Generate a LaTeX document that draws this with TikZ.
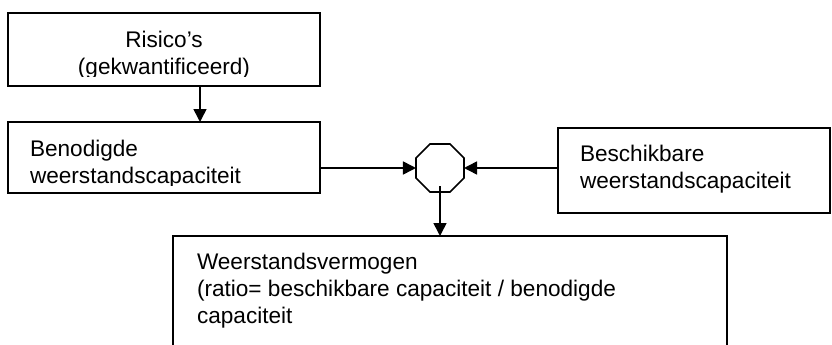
\documentclass[tikz,border=0pt]{standalone}
\usepackage{fontspec}
\setmainfont{Liberation Sans}
\usetikzlibrary{arrows.meta,shapes.geometric}

\begin{document}
\begin{tikzpicture}[x=1pt,y=-1pt,
		blok/.style={draw,line width=1.6pt,inner sep=0pt,outer sep=0pt},
		tekst/.style={inner sep=0pt,outer sep=0pt,font=\fontsize{22.6}{26.7}\selectfont},
		pijl/.style={line width=1.6pt,-{Triangle[length=13pt,width=13pt]}}]
		\useasboundingbox (0,0) rectangle (832,345);
		% blokken
		\node[blok,minimum width=312pt,minimum height=73pt] (risico) at (164,49.5) {};
		\node[blok,minimum width=312pt,minimum height=71pt] (benodigd) at (164,157.5) {};
		\node[blok,minimum width=272pt,minimum height=85pt] (beschikbaar) at (694,170.5) {};
		\node[blok,minimum width=554pt,minimum height=140pt] (vermogen) at (450,306) {};
		\node[blok,regular polygon,regular polygon sides=8,minimum size=52pt] (kruis) at (440,168) {};
		% teksten, onderaan afgeknipt zoals in het tekstvak
		\begin{scope}
			\clip (risico.north west) rectangle ([yshift=10pt]risico.south east);
			\node[tekst,align=center,anchor=base] (risicotekst) at (164,74.3) {Risico’s\\(gekwantificeerd)};
		\end{scope}
		\begin{scope}
			\clip (benodigd.north west) rectangle ([yshift=8pt]benodigd.south east);
			\node[tekst,align=left,anchor=base west] (benodigdtekst) at (30,183.3) {Benodigde\\weerstandscapaciteit};
		\end{scope}
		\node[tekst,align=left,anchor=base west] (beschikbaartekst) at (580,188.5) {Beschikbare\\weerstandscapaciteit};
		\node[tekst,align=left,anchor=base west] (vermogentekst) at (197,323) {Weerstandsvermogen\\(ratio= beschikbare capaciteit / benodigde\\capaciteit};
		% pijlen
		\draw[pijl] ([xshift=36pt]risico.south) -- ([xshift=36pt]benodigd.north);
		\draw[pijl] (benodigd.east |- kruis.west) -- (kruis.west);
		\draw[pijl] (beschikbaar.west |- kruis.east) -- (kruis.east);
		\draw[pijl] ([yshift=6pt]kruis.south) -- (kruis.south |- vermogen.north);
	\end{tikzpicture}
\end{document}
